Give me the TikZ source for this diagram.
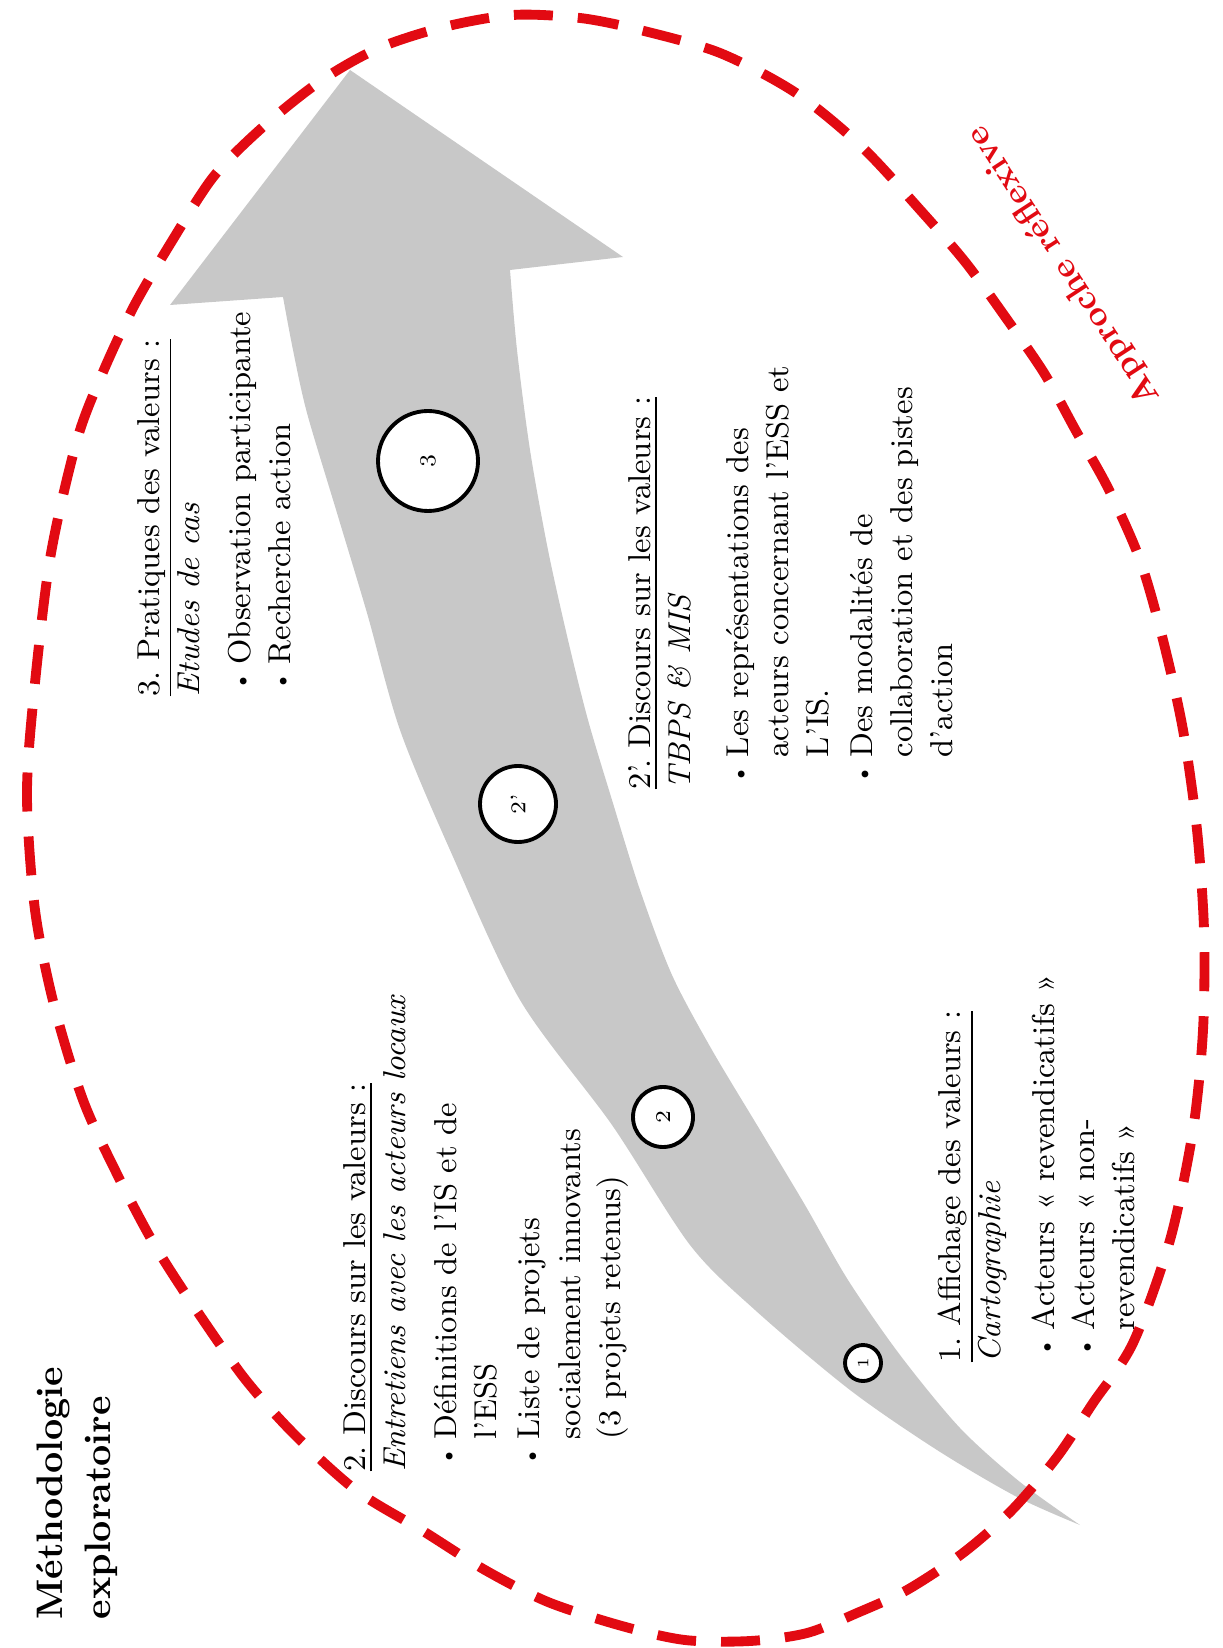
\documentclass[tikz,border=0pt]{standalone}
\definecolor{gris}{RGB}{200,200,200}
\definecolor{rouge}{RGB}{226,10,18}

\tikzset{
  bloc/.style={rotate=90, anchor=north west, align=left, inner sep=0pt,
    font=\frenchspacing\fontsize{9}{11.4}\selectfont},
  etape/.style={circle, draw=black, line width=1.1pt, fill=white,
    inner sep=0pt, rotate=90},
}
\newcommand{\puce}{\makebox[3.2mm][l]{\hspace*{0.5mm}\raisebox{0.15ex}{\fontsize{6.5}{6.5}\selectfont\textbullet}}}
\newcommand{\suite}{\hspace*{3.2mm}}

\begin{document}
\begin{tikzpicture}[x=0.1mm, y=-0.1mm]
\useasboundingbox (0,0) rectangle (1222,1648);

% la fleche
\fill[gris] (350,70) -- (623,257) -- (510,270)
  -- plot[smooth] coordinates {(510,270) (517,350) (530,450) (548,550)
     (568,640) (588,720) (612,800) (640,890) (672,975) (712,1050)
     (760,1130) (805,1205) (848,1280) (900,1355) (960,1428) (1020,1482) (1080,1525)}
  -- plot[smooth] coordinates {(1080,1525) (1017,1497) (937,1450) (850,1390)
     (755,1310) (690,1245) (612,1125) (520,1000) (450,850) (400,730)
     (367,613) (337,513) (307,413) (293,350) (283,297)}
  -- (170,305) -- cycle;

% les etapes
\node[etape, minimum size=10mm, font=\fontsize{6.5}{7}\selectfont] (e3) at (428,461) {3};
\node[etape, minimum size=7.6mm, font=\fontsize{6}{7}\selectfont] (e2p) at (518,804) {2’};
\node[etape, minimum size=6mm, font=\fontsize{6}{7}\selectfont] (e2) at (663,1117) {2};
\node[etape, minimum size=3.6mm, font=\fontsize{4.5}{5}\selectfont] (e1) at (863,1363) {1};

% les textes
\node[bloc, font=\bfseries\fontsize{10.5}{13.6}\selectfont] (titre) at (36,1620)
  {Méthodologie\\exploratoire};

\node[bloc] (dis2) at (343,1472) {\underline{2. Discours sur les valeurs~:}\\
  \textit{Entretiens avec les acteurs locaux}\\[3pt]
  \puce Définitions de l’IS et de\\
  \suite l’ESS\\[1pt]
  \puce Liste de projets\\
  \suite socialement innovants\\
  \suite (3 projets retenus)};

\node[bloc] (prat3) at (137,697) {\underline{3. Pratiques des valeurs~:}\\
  \textit{Etudes de cas}\\[3pt]
  \puce Observation participante\\
  \puce Recherche action};

\node[bloc] (dis2p) at (628,790) {\underline{2’. Discours sur les valeurs~:}\\
  \textit{TBPS \& MIS}\\[5pt]
  \puce Les représentations des\\
  \suite acteurs concernant l’ESS et\\
  \suite L’IS.\\[1pt]
  \puce Des modalités de\\
  \suite collaboration et des pistes\\
  \suite d’action};

\node[bloc] (aff1) at (937,1363) {\underline{1. Affichage des valeurs~:}\\
  \textit{Cartographie}\\[4pt]
  \puce Acteurs «~revendicatifs~»\\
  \puce Acteurs «~non-\\
  \suite revendicatifs~»};

% approche reflexive
\draw[rouge, line width=2.8pt, dash pattern=on 3.9mm off 2.5mm]
  plot[smooth cycle] coordinates {(513,15) (580,18) (640,30) (720,53)
  (796,93) (862,147) (922,212) (966,263) (1006,318) (1044,373) (1076,431)
  (1108,488) (1140,560) (1163,640) (1183,730) (1197,830) (1204,930)
  (1203,1030) (1193,1130) (1170,1240) (1133,1343) (1093,1403) (1057,1457)
  (1012,1510) (963,1553) (907,1590) (857,1613) (807,1633) (750,1641)
  (685,1640) (622,1626) (548,1602) (485,1570) (423,1531) (357,1491)
  (295,1435) (245,1379) (195,1308) (154,1244) (116,1172) (83,1100)
  (54,1005) (35,910) (27,798) (33,703) (50,559) (77,440) (103,372)
  (134,306) (172,241) (214,176) (264,126) (322,80) (379,48) (444,27)};
\node[rotate=123, text=rouge, font=\bfseries\fontsize{9.8}{12}\selectfont]
  (approche) at (1064,266) {Approche réflexive};
\end{tikzpicture}
\end{document}
